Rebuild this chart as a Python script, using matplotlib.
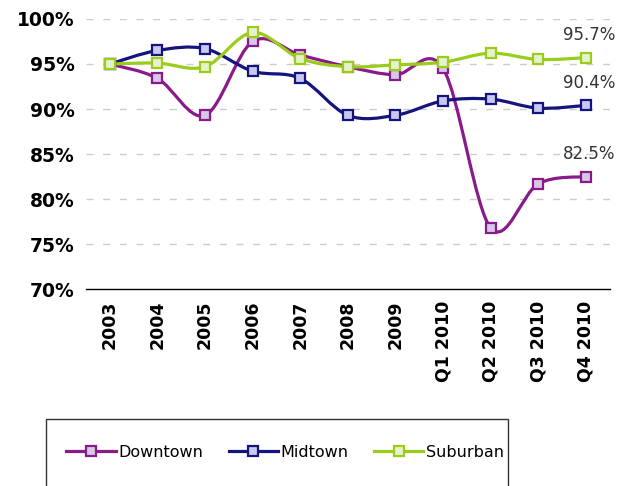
import numpy as np
import matplotlib.pyplot as plt
from matplotlib.path import Path
from matplotlib.patches import PathPatch, Rectangle
from matplotlib.lines import Line2D

# Data
periods = ["2003", "2004", "2005", "2006", "2007", "2008", "2009",
           "Q1 2010", "Q2 2010", "Q3 2010", "Q4 2010"]
downtown = [95.0, 93.4, 89.3, 97.5, 96.0, 94.7, 93.8, 94.5, 76.8, 81.7, 82.5]
midtown = [95.0, 96.5, 96.7, 94.2, 93.4, 89.3, 89.3, 90.9, 91.1, 90.1, 90.4]
suburban = [95.0, 95.1, 94.7, 98.5, 95.6, 94.7, 94.9, 95.2, 96.2, 95.5, 95.7]
end_labels = ["82.5%", "90.4%", "95.7%"]

series = [
    ("Downtown", downtown, "#8a1a8a", "#d8c8e8"),
    ("Midtown", midtown, "#14147e", "#c8c8f0"),
    ("Suburban", suburban, "#9acd1a", "#e8f0d0"),
]


def smooth_path(x, y, t=0.5):
    # Catmull-Rom style bezier through the data points
    x = np.asarray(x, float)
    y = np.asarray(y, float)
    verts = [(x[0], y[0])]
    codes = [Path.MOVETO]
    n = len(x)
    for i in range(n - 1):
        p0 = i - 1 if i > 0 else i
        p3 = i + 2 if i + 2 < n else i + 1
        c1 = (x[i] + (x[i + 1] - x[p0]) * t / 3, y[i] + (y[i + 1] - y[p0]) * t / 3)
        c2 = (x[i + 1] - (x[p3] - x[i]) * t / 3, y[i + 1] - (y[p3] - y[i]) * t / 3)
        verts += [c1, c2, (x[i + 1], y[i + 1])]
        codes += [Path.CURVE4] * 3
    return Path(verts, codes)


fig = plt.figure(figsize=(6.19, 4.86), dpi=100)
ax = fig.add_axes([0.139, 0.405, 0.846, 0.556])

xs = np.arange(len(periods))
handles = []
for name, vals, col, fill in series:
    ax.add_patch(PathPatch(smooth_path(xs, vals), facecolor="none",
                           edgecolor=col, lw=2.3, zorder=3))
    ax.plot(xs, vals, ls="none", marker="s", ms=7.5, mfc=fill, mec=col,
            mew=1.6, zorder=4)
    handles.append(Line2D([], [], color=col, lw=2.3, marker="s", ms=7,
                          mfc=fill, mec=col, mew=1.6))

for lab, vals in zip(end_labels, [downtown, midtown, suburban]):
    ax.annotate(lab, (xs[-1], vals[-1]), xytext=(21, 16),
                textcoords="offset points", ha="right", va="center",
                fontsize=12, color="#333333", annotation_clip=False)

ax.set_xlim(-0.5, 10.5)
ax.set_ylim(70, 100)
ax.set_yticks(range(70, 101, 5))
ax.set_yticklabels([f"{v}%" for v in range(70, 101, 5)],
                   fontsize=13.5, fontweight="bold")
ax.set_xticks(xs)
ax.set_xticklabels(periods, rotation=90, fontsize=12.5, fontweight="bold")
ax.tick_params(length=0, pad=8)
for v in range(75, 101, 5):
    ax.axhline(v, color="#cccccc", lw=1, ls=(0, (5, 7)), zorder=1)
for s in ["top", "right", "left"]:
    ax.spines[s].set_visible(False)
ax.spines["bottom"].set_color("black")
ax.spines["bottom"].set_linewidth(1)

# legend box runs off the bottom edge like the reference
fig.patches.append(Rectangle((46 / 619, -0.05), 462 / 619, 0.05 + 67 / 486,
                             transform=fig.transFigure, facecolor="none",
                             edgecolor="#333333", lw=1))
leg = fig.legend(handles, [s[0] for s in series], loc="center left",
                 bbox_to_anchor=(0.094, 1 - 452 / 486), ncol=3, fontsize=11.5,
                 frameon=False, handlelength=3.1, handletextpad=0.15,
                 columnspacing=1.6, borderpad=0)

fig.savefig("out.png", dpi=100)
